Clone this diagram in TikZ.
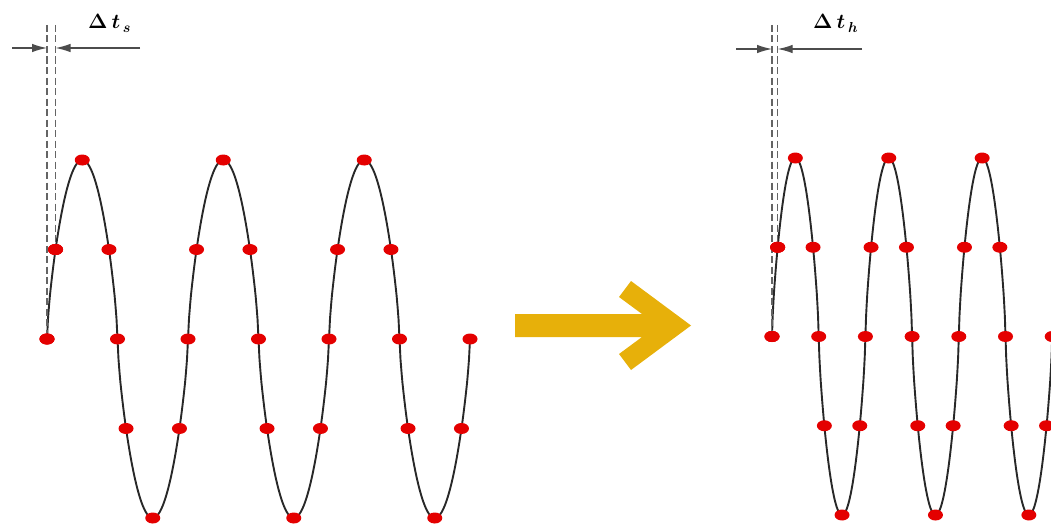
\documentclass[tikz,border=0pt]{standalone}
\usetikzlibrary{shapes.geometric,arrows.meta}
\definecolor{dotred}{RGB}{228,0,0}
\definecolor{gold}{RGB}{231,176,10}
\definecolor{curvecol}{RGB}{40,40,40}
\definecolor{dashgray}{RGB}{100,100,100}
\begin{document}
\begin{tikzpicture}[x=1pt,y=-1pt,
  declare function={wf(\t)=sign(sin(\t))*pow(abs(sin(\t))+0.00001,0.7);},
  dot/.style={ellipse,fill=dotred,minimum width=15pt,minimum height=11pt,inner sep=0pt},
  wave/.style={draw=curvecol,line width=1.9pt},
  guide/.style={draw=dashgray,line width=1.5pt,dash pattern=on 7pt off 3.5pt},
  dim/.style={draw=black!70,line width=1.2pt,-{Latex[length=15pt,width=8.5pt]}},
  lbl/.style={inner sep=0pt,anchor=base west,font=\fontsize{21}{25}\selectfont\boldmath}]
\useasboundingbox (0,0) rectangle (1051,527);
\begin{scope}
\clip (0,0) rectangle (1051,527);
% left wave
\draw[wave] plot[domain=0:1080,samples=433] ({47+\x/360*141},{339-179*wf(\x)});
% right wave
\draw[wave] plot[domain=0:1080,samples=433] ({772+\x/360*93.4},{336.5-178.5*wf(\x)});
% guides
\coordinate (topref) at (0,25);
\node[dot] (ld1) at (47,339) {};
\node[dot] (ld2) at ({47+21.8/360*141},{339-179*0.5}) {};
\node[dot] (rd1) at (772,336.5) {};
\node[dot] (rd2) at ({772+21.8/360*93.4},{336.5-178.5*0.5}) {};
\coordinate (lt1) at (ld1 |- topref);
\coordinate (lt2) at (ld2 |- topref);
\coordinate (rt1) at (rd1 |- topref);
\coordinate (rt2) at (rd2 |- topref);
\draw[guide] (lt1) -- (ld1);
\draw[guide] (lt2) -- (ld2);
\draw[guide] (rt1) -- (rd1);
\draw[guide] (rt2) -- (rd2);
% dots
\foreach \k in {0,1,2}{
  \foreach \p [count=\i] in {0,21.8,90,158.2,180,201.8,270,338.2}{
    \node[dot] (ls-\k-\i) at ({47+(\k*360+\p)/360*141},{339-179*wf(\k*360+\p)}) {};
    \node[dot] (rs-\k-\i) at ({772+(\k*360+\p)/360*93.4},{336.5-178.5*wf(\k*360+\p)}) {};
  }
}
\node[dot] (lend) at (470,339) {};
\node[dot] (rend) at (1052.2,336.5) {};
\node[dot] (ld1b) at (ld1) {};
\node[dot] (ld2b) at (ld2) {};
\node[dot] (rd1b) at (rd1) {};
\node[dot] (rd2b) at (rd2) {};
% dimension arrows
\coordinate (lal) at (12,48);
\coordinate (lar) at (140,48);
\coordinate (ral) at (736,49);
\coordinate (rar) at (862,49);
\draw[dim] (lal) -- (lal -| ld1);
\draw[dim] (lar) -- (lar -| ld2);
\draw[dim] (ral) -- (ral -| rd1);
\draw[dim] (rar) -- (rar -| rd2);
\node[lbl] (lbs) at (88,29) {$\Delta\,t_{\,s}$};
\node[lbl] (lbh) at (813,29) {$\Delta\,t_{\,h}$};
% big arrow
\fill[gold] (515,314) -- (642,314) -- (619,297) -- (631,281) -- (691,325.5)
  -- (631,370) -- (619,354) -- (642,337) -- (515,337) -- cycle;
\end{scope}
\end{tikzpicture}
\end{document}
